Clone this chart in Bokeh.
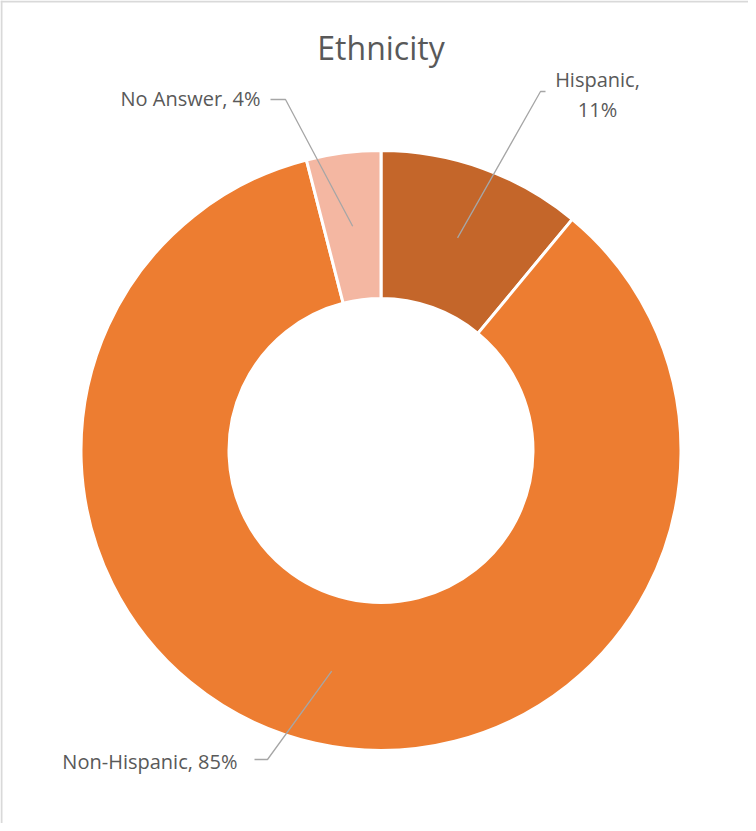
import math
from bokeh.plotting import figure
from bokeh.models import ColumnDataSource, Range1d, Span
from bokeh.core.properties import value
from bokeh.embed import file_html
from bokeh.resources import INLINE

# ---- data ----
categories = ["Hispanic", "Non-Hispanic", "No Answer"]
percents = [11, 85, 4]
colors = ["#C4662A", "#ED7D31", "#F4B7A2"]
title_text = "Ethnicity"

# ---- layout ----
W, H = 748, 823
cx, cy = 380.5, 373.0
outer_r, inner_r = 300, 152
label_r = 226
FONT = "Open Sans"
TXT = "#595959"

p = figure(width=W, height=H, x_range=Range1d(0, W), y_range=Range1d(0, H),
           output_backend="svg", toolbar_location=None, min_border=0,
           x_axis_location=None, y_axis_location=None)
p.grid.visible = False
p.outline_line_color = None
p.background_fill_color = "white"
p.border_fill_color = "white"

total = float(sum(percents))
cum = [0.0]
for v in percents:
    cum.append(cum[-1] + v)
start_angles = [math.pi / 2 - 2 * math.pi * cum[i + 1] / total for i in range(len(percents))]
end_angles = [math.pi / 2 - 2 * math.pi * cum[i] / total for i in range(len(percents))]
mid_angles = [(a + b) / 2 for a, b in zip(start_angles, end_angles)]

src = ColumnDataSource(dict(cat=categories, val=percents, color=colors,
                            start=start_angles, end=end_angles))
p.annular_wedge(x=cx, y=cy, inner_radius=inner_r, outer_radius=outer_r,
                start_angle="start", end_angle="end", fill_color="color",
                line_color="white", line_width=3, source=src)

# labels
label_texts = [f"{categories[0]},\n{percents[0]}%",
               f"{categories[1]}, {percents[1]}%",
               f"{categories[2]}, {percents[2]}%"]
label_x = [597, 237, 260]
label_y = [729, 62, 725]
label_align = ["center", "right", "right"]
elbow = [(540, 732), (267, 64), (285, 724)]
ends = [(545, 732), (254, 64), (270, 724)]

xs, ys = [], []
for i, a in enumerate(mid_angles):
    sx = cx + label_r * math.cos(a)
    sy = cy + label_r * math.sin(a)
    xs.append([sx, elbow[i][0], ends[i][0]])
    ys.append([sy, elbow[i][1], ends[i][1]])
p.multi_line(xs=xs, ys=ys, line_color="#A6A6A6", line_width=1.3)

lsrc = ColumnDataSource(dict(x=label_x, y=label_y, t=label_texts, align=label_align))
p.text(x="x", y="y", text="t", text_align="align", text_baseline="middle",
       text_font=value(FONT), text_font_size="20px", text_color=TXT,
       text_line_height=1.1, source=lsrc)

p.text(x=[cx], y=[776], text=[title_text], text_align="center", text_baseline="middle",
       text_font=value(FONT), text_font_size="32px", text_color=TXT)

# border (left and top only visible in reference)
p.add_layout(Span(location=1, dimension="height", line_color="#D9D9D9", line_width=2))
p.add_layout(Span(location=H - 1, dimension="width", line_color="#D9D9D9", line_width=2))

open("out.html", "w").write(file_html(p, INLINE))
